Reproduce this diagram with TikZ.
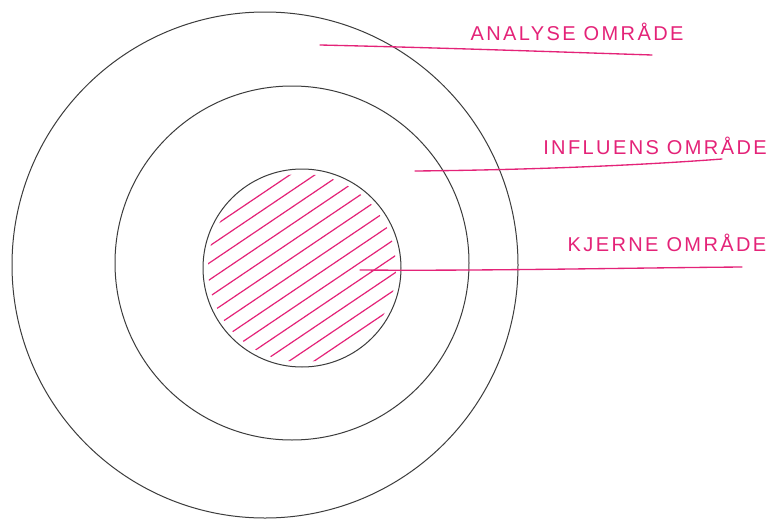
\documentclass[tikz,border=0pt]{standalone}
\usepackage{fontspec}
\usetikzlibrary{calc}
\setmainfont{Liberation Sans}
\definecolor{ink}{RGB}{228,35,120}
\definecolor{ring}{RGB}{60,60,60}
\begin{document}
\begin{tikzpicture}[x=0.75pt,y=-0.75pt,
  circ/.style={draw=ring,line width=0.75pt},
  lead/.style={draw=ink,line width=1pt,line cap=round},
  hatch/.style={draw=ink,line width=0.9pt,line cap=round},
  lbl/.style={text=ink,font=\fontsize{15}{15}\selectfont\addfontfeature{LetterSpace=12},inner sep=0pt}]
\useasboundingbox (0,0) rectangle (775,518);
\fill[white] (0,0) rectangle (775,518);
% circles
\node[circ,circle,minimum size=506*0.75pt,inner sep=0pt] (outer) at (265,265) {};
\node[circ,circle,minimum size=354*0.75pt,inner sep=0pt] (middle) at (292,263) {};
\node[circ,circle,minimum size=198*0.75pt,inner sep=0pt] (inner) at (302,268) {};
% hatching
\begin{scope}
  \clip (302,268) circle[radius=94];
  \foreach \k in {-7,...,7}{
    \draw[hatch] ($(302,268)+(\k*14*0.559,\k*14*0.829)+(-110*0.829,110*0.559)$) -- ($(302,268)+(\k*14*0.559,\k*14*0.829)+(110*0.829,-110*0.559)$);
  }
\end{scope}
% labels
\node[lbl] (la) at (577,32) {ANALYSE OMRÅDE};
\node[lbl] (li) at (655,146) {INFLUENS OMRÅDE};
\node[lbl] (lk) at (667,243) {KJERNE OMRÅDE};
% leader lines
\coordinate (a1) at (320,45);
\coordinate (a2) at (652,55);
\coordinate (i1) at (415,171);
\coordinate (i2) at (722,159);
\coordinate (k1) at (360,270);
\coordinate (k2) at (742,267);
\draw[lead] (a1) .. controls (450,48) and (560,52) .. (a2);
\draw[lead] (i1) .. controls (520,170) and (630,166) .. (i2);
\draw[lead] (k1) .. controls (480,271) and (620,268) .. (k2);
\end{tikzpicture}
\end{document}
